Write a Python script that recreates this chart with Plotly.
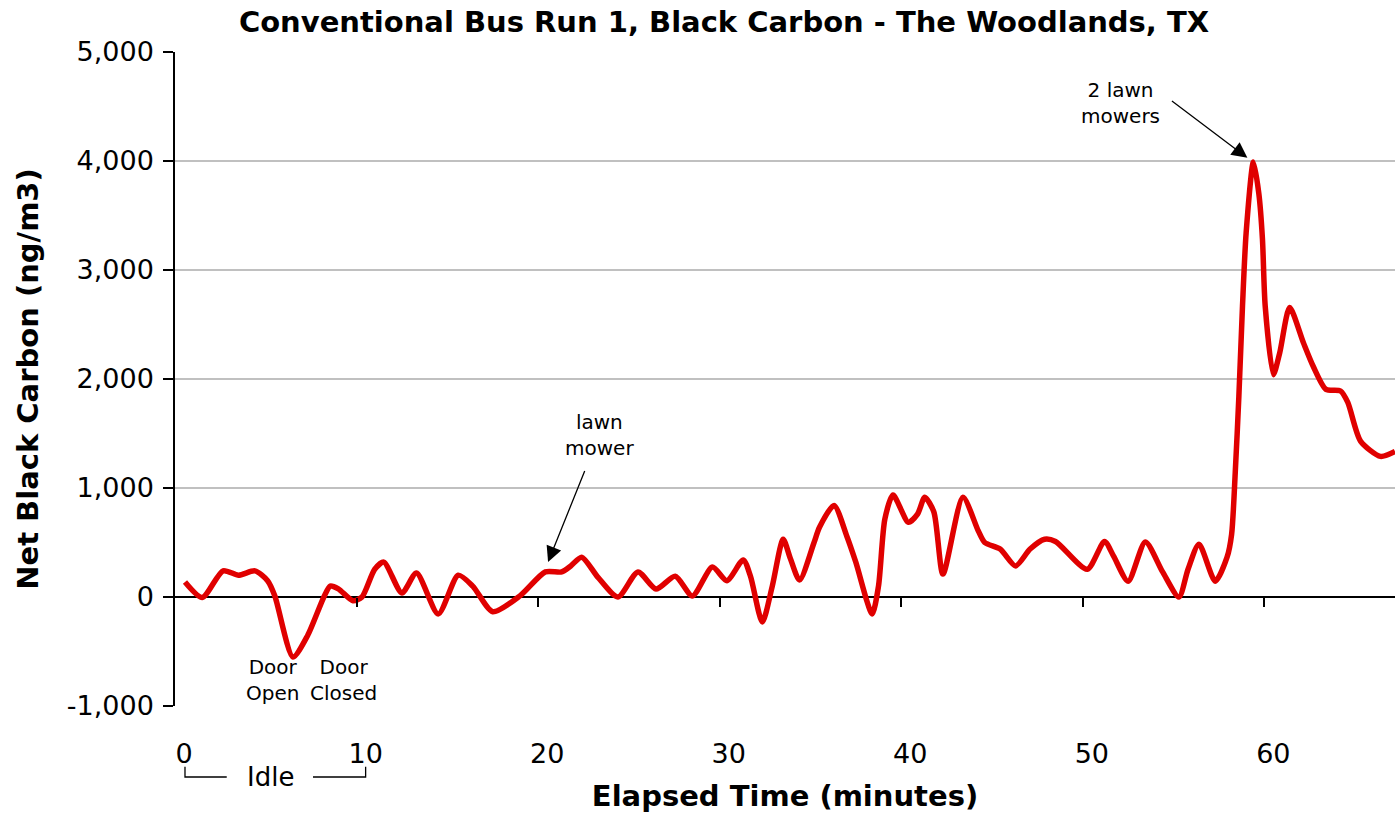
import plotly.graph_objects as go

# ---- data ----
elapsed_min = [0.05, 1.0, 2.15, 3.0, 3.9, 4.6, 5.0, 6.0, 6.8, 7.7, 8.05, 8.5, 9.3, 9.8,
               10.5, 11.0, 12.0, 12.8, 14.0, 15.1, 15.9, 17.0, 18.5, 19.9, 20.8, 21.3,
               21.9, 22.8, 23.9, 25.0, 26.0, 27.05, 28.0, 29.1, 29.9, 30.8, 31.2, 31.85,
               32.4, 33.0, 33.4, 33.9, 34.7, 35.0, 35.8, 36.5, 37.0, 37.9, 38.25, 38.6,
               39.05, 39.9, 40.4, 40.8, 41.3, 41.8, 42.9, 43.75, 44.1, 44.95, 45.8, 46.6,
               47.4, 48.0, 49.75, 50.7, 51.2, 52.0, 52.95, 53.9, 54.8, 55.3, 55.9, 56.8,
               57.45, 57.7, 57.9, 58.1, 58.3, 58.5, 58.9, 59.2, 59.4, 59.55, 60.0, 60.35,
               60.9, 61.65, 62.2, 62.9, 63.7, 64.1, 64.8, 65.9, 66.7]
black_carbon = [137, -5, 240, 200, 240, 150, 10, -550, -355, 0, 100, 75, -35, 0,
                255, 320, 37, 220, -155, 200, 100, -135, 10, 230, 230, 285,
                365, 180, 0, 230, 73, 190, 10, 275, 150, 340, 190, -230,
                100, 530, 350, 155, 500, 640, 840, 560, 320, -155, 100, 715,
                935, 685, 760, 915, 780, 210, 915, 605, 500, 440, 285, 440,
                530, 510, 255, 510, 375, 145, 505, 230, 0, 255, 485, 145,
                365, 575, 1140, 1840, 2670, 3340, 3990, 3700, 3280, 2670, 2040, 2240,
                2655, 2335, 2115, 1905, 1890, 1785, 1430, 1290, 1335]

x_tick_vals = [0, 10, 20, 30, 40, 50, 60]
x_tick_text = ["0", "10", "20", "30", "40", "50", "60"]
x_tick_marks = [9.5, 19.5, 29.5, 39.5, 49.5, 59.5]
y_tick_vals = [-1000, 0, 1000, 2000, 3000, 4000, 5000]
y_tick_text = ["-1,000", "0", "1,000", "2,000", "3,000", "4,000", "5,000"]

FONT = "DejaVu Sans"
X_RANGE = [-0.5, 66.7]
Y_RANGE = [-1000, 5000]
TICK = 27
TITLE = 29
ANN = 20

fig = go.Figure()
fig.add_trace(go.Scatter(
    x=elapsed_min, y=black_carbon, mode="lines",
    line=dict(color="#E00000", width=5.5, shape="spline", smoothing=0.7),
    hoverinfo="x+y", showlegend=False))
# helper trace for the tick-mark axis sitting on the zero line
fig.add_trace(go.Scatter(x=[X_RANGE[0]], y=[0], xaxis="x2", mode="markers",
                         marker=dict(opacity=0), hoverinfo="skip", showlegend=False))

fig.update_layout(
    width=1395, height=814,
    margin=dict(l=175, r=0, t=52, b=108, autoexpand=False),
    paper_bgcolor="white", plot_bgcolor="white",
    font=dict(family=FONT, color="black", size=TICK),
    title=dict(text="<b>Conventional Bus Run 1, Black Carbon - The Woodlands, TX</b>",
               x=0.519, xanchor="center", y=0.973, yanchor="middle", automargin=False,
               font=dict(family=FONT, size=TITLE, color="black")),
    xaxis=dict(range=X_RANGE, tickvals=x_tick_vals, ticktext=x_tick_text,
               showgrid=False, zeroline=False, showline=False, ticks="",
               automargin=False, ticklabelstandoff=29, tickfont=dict(size=TICK),
               title=dict(text="<b>Elapsed Time (minutes)</b>", standoff=17,
                          font=dict(size=TITLE))),
    xaxis2=dict(range=X_RANGE, overlaying="x", anchor="free", position=1/6,
                tickvals=x_tick_marks, ticks="outside", ticklen=9, tickwidth=1.5,
                tickcolor="black", showticklabels=False, showgrid=False,
                zeroline=False, showline=False, automargin=False),
    yaxis=dict(range=Y_RANGE, tickvals=y_tick_vals, ticktext=y_tick_text,
               showgrid=True, gridcolor="#C0C0C0", gridwidth=1.5,
               zeroline=True, zerolinecolor="black", zerolinewidth=2,
               showline=True, linecolor="black", linewidth=1.5,
               ticks="outside", ticklen=10, tickwidth=1.5, tickcolor="black",
               ticklabelstandoff=4, automargin=False, tickfont=dict(size=TICK),
               title=dict(text="<b>Net Black Carbon (ng/m3)</b>", standoff=20,
                          font=dict(size=TITLE))),
)

ann_font = dict(family=FONT, size=ANN, color="black")
arrow_style = dict(showarrow=True, arrowhead=2, arrowsize=2.4, arrowwidth=1.3,
                   arrowcolor="black", axref="x", ayref="y", text="")
# callout arrows (empty text, drawn from tail to head)
fig.add_annotation(x=20.05, y=320, ax=22.1, ay=1170, **arrow_style)
fig.add_annotation(x=58.57, y=4029, ax=54.33, ay=4560, **arrow_style)
fig.add_annotation(x=22.9, y=1490, xref="x", yref="y", text="lawn<br>mower",
                   showarrow=False, font=ann_font)
fig.add_annotation(x=51.6, y=4530, xref="x", yref="y", text="2 lawn<br>mowers",
                   showarrow=False, font=ann_font)
fig.add_annotation(x=4.85, y=-760, xref="x", yref="y", text="Door<br>Open",
                   showarrow=False, font=ann_font)
fig.add_annotation(x=8.8, y=-760, xref="x", yref="y", text="Door<br>Closed",
                   showarrow=False, font=ann_font)
fig.add_annotation(x=4.75, y=-0.1086, xref="x", yref="paper", text="Idle",
                   yanchor="middle", showarrow=False,
                   font=dict(family=FONT, size=TICK - 1, color="black"))

# "Idle" bracket under the axis
bracket = dict(color="black", width=1.3)
fig.add_shape(type="path", xref="x", yref="paper",
              path="M 0.05,-0.093 L 0.05,-0.1086 L 2.35,-0.1086", line=bracket)
fig.add_shape(type="path", xref="x", yref="paper",
              path="M 7.1,-0.1086 L 10.0,-0.1086 L 10.0,-0.093", line=bracket)

fig.write_html("out.html", config={"displayModeBar": False},
               post_script="document.body.style.margin='0px';document.body.style.padding='0px';")
